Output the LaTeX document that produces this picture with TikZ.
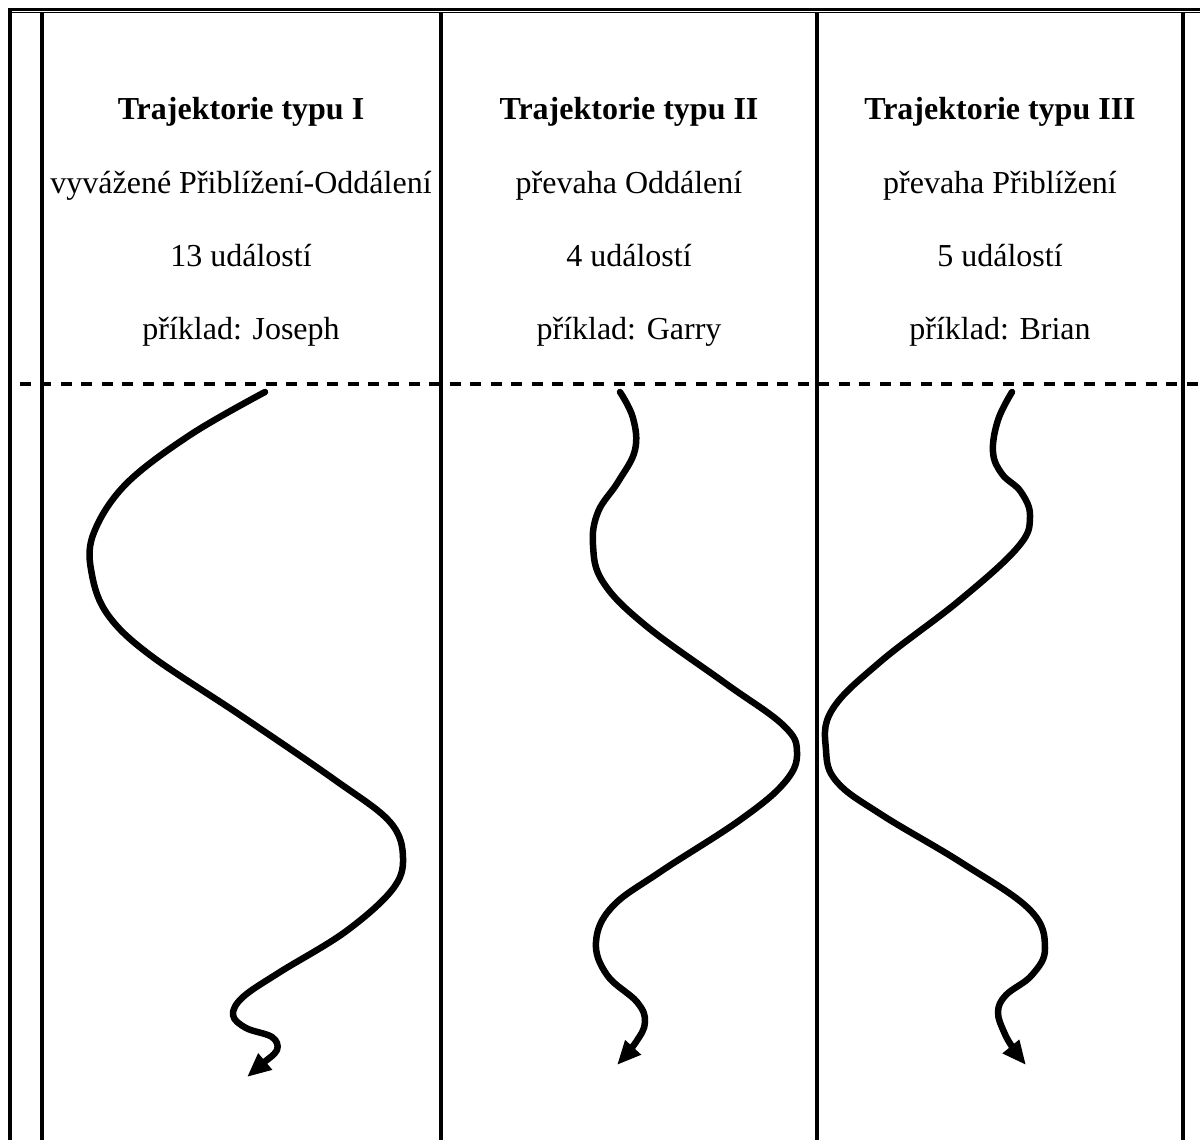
\documentclass[tikz,border=0pt]{standalone}
\usepackage{fontspec}
\setmainfont{Liberation Serif}
\usetikzlibrary{arrows.meta}
\begin{document}
\begin{tikzpicture}[x=1pt,y=-1pt,
  rule/.style={line width=4pt},
  txt/.style={anchor=base,font=\fontsize{32}{36}\selectfont,inner sep=0pt},
  head/.style={txt,font=\fontsize{32}{36}\selectfont\bfseries},
  traj/.style={line width=6.5pt,line cap=round,line join=round,-{Triangle[length=24pt,width=20pt]}}]
\useasboundingbox (0,0) rectangle (1200,1140);
% frame
\draw[line width=3pt] (8,9.5) -- (1200,9.5);
\draw[line width=1.6pt] (12,12.6) -- (1200,12.6);
\draw[rule] (10,8) -- (10,1140);
\draw[rule] (42,12) -- (42,1140);
\draw[rule] (441,12) -- (441,1140);
\draw[rule] (817,12) -- (817,1140);
\draw[rule] (1183,12) -- (1183,1140);
\draw[line width=4pt,dash pattern=on 11pt off 9.47pt] (20,384) -- (1200,384);
% texts
\node[head] (h1) at (241,120) {Trajektorie typu I};
\node[txt]  (d1) at (241,193) {vyvážené Přiblížení-Oddálení};
\node[txt]  (n1) at (241,266) {13 událostí};
\node[txt]  (e1) at (241,339) {příklad: Joseph};
\node[head] (h2) at (629,120) {Trajektorie typu II};
\node[txt]  (d2) at (629,193) {převaha Oddálení};
\node[txt]  (n2) at (629,266) {4 událostí};
\node[txt]  (e2) at (629,339) {příklad: Garry};
\node[head] (h3) at (1000,120) {Trajektorie typu III};
\node[txt]  (d3) at (1000,193) {převaha Přiblížení};
\node[txt]  (n3) at (1000,266) {5 událostí};
\node[txt]  (e3) at (1000,339) {příklad: Brian};
% trajectories
\draw[traj] plot[smooth,tension=0.6] coordinates {(265,392) (190,435) (125,485) (93,535) (92,575) (108,615) (150,655) (240,715) (335,780) (390,822) (403,858) (392,890) (345,932) (280,972) (243,997) (233,1015) (246,1028) (272,1037) (277,1050) (262,1064) (247,1077)};
\draw[traj] plot[smooth,tension=0.65] coordinates {(620,392) (633,418) (635,450) (618,482) (598,512) (593,545) (603,582) (645,625) (725,683) (783,725) (797,752) (785,782) (740,820) (660,872) (612,907) (596,942) (607,975) (637,1002) (645,1022) (636,1042) (617,1065)};
\draw[traj] plot[smooth,tension=0.65] coordinates {(1012,392) (998,420) (993,452) (1002,474) (1021,492) (1030,517) (1018,547) (960,600) (880,662) (832,710) (826,750) (837,782) (882,815) (962,863) (1030,910) (1045,948) (1032,975) (1006,995) (998,1012) (1004,1032) (1013,1048) (1026,1065)};
\end{tikzpicture}
\end{document}
